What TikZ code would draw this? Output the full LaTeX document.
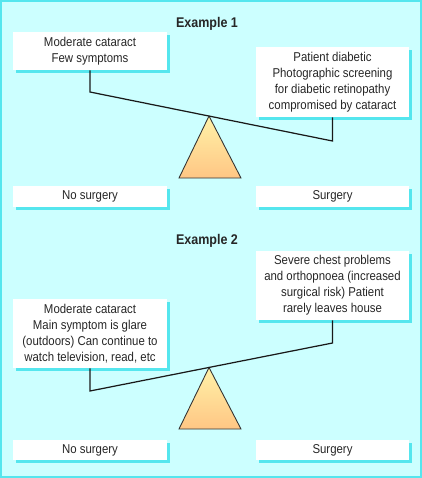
\documentclass[tikz,border=0pt]{standalone}
\usepackage{fontspec}
\setmainfont[FakeStretch=0.89]{Liberation Sans}
\usetikzlibrary{shadows}

\definecolor{bgcyan}{HTML}{CCFFFF}
\definecolor{rimcyan}{HTML}{55E6EE}
\definecolor{wedgetop}{HTML}{FFF2A8}
\definecolor{wedgebot}{HTML}{FFC684}

\begin{document}
\begin{tikzpicture}[x=0.02cm, y=-0.02cm,
   txt/.style={font=\fontsize{7.3}{9.1}\selectfont, text=black!85, align=center},
   box/.style={txt, fill=white, inner sep=0pt, minimum width=3.08cm,
      drop shadow={shadow xshift=0.06cm, shadow yshift=-0.06cm, fill=rimcyan, opacity=1}},
   title/.style={font=\fontsize{8}{9}\selectfont\bfseries, text=black!85},
   beam/.style={line width=0.7pt, black!90},
   wedge/.style={draw=black!80, line width=0.5pt, top color=wedgetop, bottom color=wedgebot}]
\useasboundingbox (0,0) rectangle (422,478);
\draw[fill=bgcyan, draw=rimcyan, line width=1.2pt] (1,1) rectangle (421,477);

% example 1
\node[title] (t1) at (207,24) {Example 1};
\node[box, minimum height=0.76cm] (b1l) at (90,51) {Moderate cataract\\Few symptoms};
\node[box, minimum height=1.4cm] (b1r) at (332.5,82)
   {Patient diabetic\\Photographic screening\\for diabetic retinopathy\\compromised by cataract};
\node[box, minimum height=0.42cm] (n1l) at (90,196.5) {No surgery};
\node[box, minimum height=0.42cm] (n1r) at (332.5,196.5) {Surgery};
\coordinate (p1) at (209,116);
\coordinate (e1l) at (90,92);
\coordinate (e1r) at (332.5,141);
\path[wedge] (p1) -- ++(-30,62) -- ++(62,0) -- cycle;
\draw[beam] (b1l.south) -- (e1l) -- (e1r) -- (b1r.south);

% example 2
\node[title] (t2) at (207,241) {Example 2};
\node[box, minimum height=1.38cm] (b2r) at (332.5,285.5)
   {Severe chest problems\\and orthopnoea (increased\\surgical risk) Patient\\rarely leaves house};
\node[box, minimum height=1.38cm] (b2l) at (90,333.5)
   {Moderate cataract\\Main symptom is glare\\(outdoors) Can continue to\\watch television, read, etc};
\node[box, minimum height=0.4cm] (n2l) at (90,450) {No surgery};
\node[box, minimum height=0.4cm] (n2r) at (332.5,450) {Surgery};
\coordinate (p2) at (209,367.5);
\coordinate (e2l) at (90,391);
\coordinate (e2r) at (332.5,343);
\path[wedge] (p2) -- ++(-30,61.5) -- ++(62,0) -- cycle;
\draw[beam] (b2l.south) -- (e2l) -- (e2r) -- (b2r.south);
\end{tikzpicture}
\end{document}
